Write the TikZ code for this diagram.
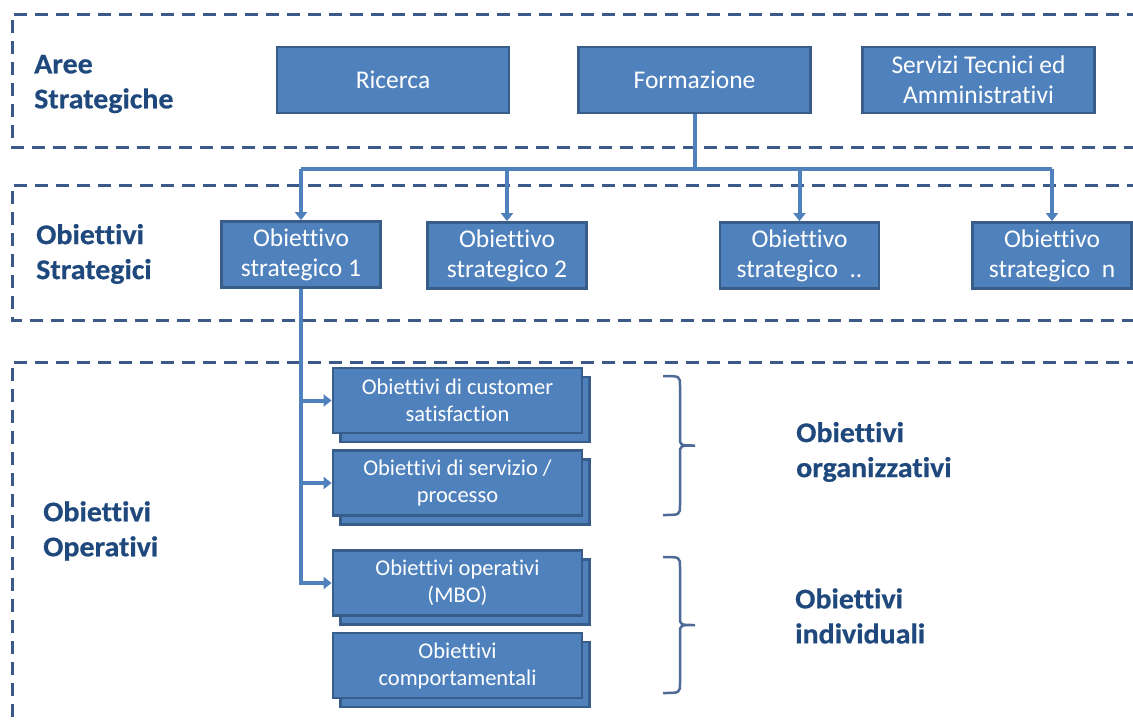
\documentclass[tikz,border=0pt]{standalone}
\usepackage{fontspec}
\setmainfont{Carlito}[RawFeature={-liga;-clig;-calt;-dlig}, BoldFeatures={FakeStretch=1.05, FakeBold=0.6}]
\usetikzlibrary{arrows.meta,positioning}
\definecolor{boxfill}{RGB}{79,129,189}
\definecolor{boxline}{RGB}{56,93,138}
\definecolor{dashline}{RGB}{59,90,138}
\definecolor{titleblue}{RGB}{31,73,125}
\definecolor{bracketblue}{RGB}{78,106,150}
\tikzset{
  area/.style={draw=boxline, line width=2.8pt, fill=boxfill, text=white, align=center,
    minimum width=232pt, minimum height=66pt, inner sep=0pt, font=\fontsize{25.5}{30}\selectfont},
  goal/.style={area, minimum width=159pt, minimum height=66pt},
  subgoal/.style={area, minimum width=249pt, minimum height=65pt, font=\fontsize{22.5}{27}\selectfont},
  band/.style={draw=dashline, line width=3pt, dash pattern=on 13pt off 8pt},
  link/.style={draw=boxfill, line width=4pt},
  arrowed/.style={link, -{Triangle[width=12pt,length=8pt]}},
  bracket/.style={draw=bracketblue, line width=2.5pt},
  sidetitle/.style={anchor=west, inner sep=0pt, align=left, text=titleblue,
    font=\fontsize{28.5}{35}\selectfont\bfseries}
}
\begin{document}
\begin{tikzpicture}[x=1pt, y=-1pt]
\useasboundingbox (0,0) rectangle (1133,723);
% the three dashed bands
\draw[band] (1140,14) -- (12,14) -- (12,147) -- (1140,147);
\draw[band] (1140,185) -- (12,185) -- (12,320) -- (1140,320);
\draw[band] (1140,362) -- (12,362) -- (12,740);

% band titles
\node[sidetitle] (aree) at (34,84) {Aree\\Strategiche};
\node[sidetitle] (strat) at (36,254) {Obiettivi\\Strategici};
\node[sidetitle] (oper) at (43,531) {Obiettivi\\Operativi};
\node[sidetitle] (organ) at (796,452) {Obiettivi\\organizzativi};
\node[sidetitle] (indiv) at (795,616) {Obiettivi\\individuali};

% aree strategiche
\node[area] (ric) at (393,80) {Ricerca};
\node[area] (form) at (694.5,80) {Formazione};
\node[area] (serv) at (978.5,80) {Servizi Tecnici ed\\Amministrativi};

% obiettivi strategici
\node[goal] (so1) at (301,254.5) {Obiettivo\\strategico 1};
\node[goal] (so2) at (507,255.5) {Obiettivo\\strategico 2};
\node[goal] (so3) at (799.5,255.5) {Obiettivo\\strategico\ \ ..};
\node[goal] (so4) at (1052,255.5) {Obiettivo\\strategico\ \ n};

% obiettivi operativi (stacked sheets)
\foreach \name/\y/\txt in {cs/400.5/{Obiettivi di customer\\satisfaction},
    proc/483/{Obiettivi di servizio /\\processo},
    mbo/583/{Obiettivi operativi\\(MBO)},
    comp/665.5/{Obiettivi\\comportamentali}} {
  \node[subgoal] (\name-back) at (465,\y+9) {};
  \node[subgoal] (\name) at (457.5,\y) {\txt};
}

% connectors
\draw[link] (form.south) -- ++(0,55) coordinate (bus);
\draw[link] (so1.north |- bus) -- (so4.north |- bus);
\foreach \g in {so1,so2,so3,so4}
  \draw[arrowed] (\g.north |- bus) -- (\g.north);
\draw[arrowed] (so1.south) -- (so1.south |- mbo.west) -- (mbo.west);
\draw[arrowed] (so1.south |- cs.west) -- (cs.west);
\draw[arrowed] (so1.south |- proc.west) -- (proc.west);

% braces
\foreach \top/\bot in {376/515, 557/693} {
  \draw[bracket] (663,\top) .. controls (680,\top) .. (680,\top+10)
    -- (680,{(\top+\bot)/2-8}) .. controls (680,{(\top+\bot)/2}) .. (695,{(\top+\bot)/2})
    .. controls (680,{(\top+\bot)/2}) .. (680,{(\top+\bot)/2+8})
    -- (680,\bot-10) .. controls (680,\bot) .. (663,\bot);
}
\end{tikzpicture}
\end{document}
